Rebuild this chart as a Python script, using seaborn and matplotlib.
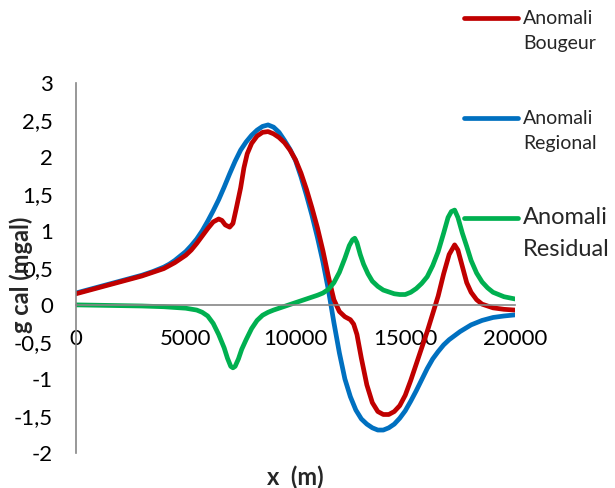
import numpy as np
import pandas as pd
import matplotlib
matplotlib.use("Agg")
import matplotlib.pyplot as plt
import seaborn as sns
from matplotlib.lines import Line2D

# ---------------- data ----------------
series_names = ["Anomali Bougeur", "Anomali Regional", "Anomali Residual"]

x_regional = [0, 1000, 2000, 3000, 3500, 4000, 4250, 4500, 4750, 5000, 5250, 5500,
              5750, 6000, 6250, 6500, 6750, 7000, 7250, 7500, 7750, 8000, 8250,
              8500, 8750, 9000, 9250, 9500, 9750, 10000, 10250, 10500, 10750,
              11000, 11250, 11500, 11750, 12000, 12250, 12500, 12750, 13000,
              13250, 13500, 13750, 14000, 14250, 14500, 14750, 15000, 15250,
              15500, 15750, 16000, 16250, 16500, 16750, 17000, 17500, 18000,
              18500, 19000, 19500, 20000]
y_regional = [0.16, 0.24, 0.32, 0.40, 0.45, 0.51, 0.55, 0.60, 0.66, 0.72, 0.80, 0.89,
              1.00, 1.13, 1.27, 1.42, 1.59, 1.77, 1.94, 2.09, 2.20, 2.29, 2.36,
              2.41, 2.43, 2.40, 2.33, 2.22, 2.10, 1.95, 1.73, 1.48, 1.21,
              0.91, 0.58, 0.20, -0.24, -0.65, -1.00, -1.24, -1.42, -1.54,
              -1.61, -1.66, -1.69, -1.69, -1.66, -1.61, -1.53, -1.43, -1.30,
              -1.16, -1.01, -0.86, -0.73, -0.63, -0.54, -0.47, -0.36, -0.27,
              -0.21, -0.17, -0.15, -0.135]

x_bouguer = [0, 1000, 2000, 3000, 3500, 4000, 4500, 5000, 5250, 5500, 5750, 6000,
             6250, 6500, 6650, 6800, 7000, 7150, 7300, 7500, 7650, 7800, 8000, 8250,
             8500, 8750, 9000, 9250, 9500, 9750, 10000, 10250, 10500, 10750, 11000,
             11250, 11500, 11750, 12000, 12250, 12500, 12650, 12800, 13000, 13250,
             13500, 13750, 14000, 14250, 14500, 14750, 15000, 15250, 15500, 15750,
             16000, 16250, 16500, 16750, 17000, 17250, 17400, 17600, 17800, 18000,
             18250, 18500, 19000, 19500, 20000]
y_bouguer = [0.15, 0.23, 0.31, 0.39, 0.44, 0.49, 0.57, 0.67, 0.74, 0.83, 0.93, 1.03,
             1.12, 1.16, 1.14, 1.08, 1.05, 1.10, 1.30, 1.58, 1.85, 2.04, 2.18, 2.28,
             2.33, 2.34, 2.31, 2.26, 2.19, 2.09, 1.96, 1.78, 1.56, 1.31, 1.04,
             0.73, 0.38, 0.07, -0.09, -0.16, -0.20, -0.26, -0.40, -0.72, -1.08,
             -1.32, -1.44, -1.48, -1.48, -1.44, -1.36, -1.22, -1.02, -0.80, -0.58,
             -0.36, -0.12, 0.12, 0.42, 0.68, 0.81, 0.74, 0.52, 0.30, 0.17,
             0.07, 0.01, -0.04, -0.06, -0.07]

x_residual = [0, 2000, 3000, 4000, 4500, 5000, 5500, 5750, 6000, 6250, 6500, 6750,
              6900, 7050, 7150, 7250, 7400, 7550, 7750, 8000, 8250, 8500, 8750, 9000,
              9500, 10000, 10500, 11000, 11250, 11500, 11750, 12000, 12250, 12450,
              12600, 12700, 12800, 12950, 13100, 13300, 13500, 13750, 14000, 14500,
              14750, 15000, 15250, 15500, 15750, 16000, 16250, 16500, 16750, 16950,
              17100, 17250, 17400, 17600, 17800, 18000, 18250, 18500, 18750, 19000,
              19500, 20000]
y_residual = [0.0, -0.01, -0.015, -0.025, -0.035, -0.045, -0.07, -0.10, -0.15, -0.25, -0.40, -0.58,
              -0.72, -0.83, -0.85, -0.83, -0.73, -0.60, -0.47, -0.32, -0.21, -0.14, -0.10, -0.07,
              -0.02, 0.03, 0.08, 0.13, 0.16, 0.21, 0.30, 0.44, 0.63, 0.80,
              0.88, 0.90, 0.84, 0.68, 0.55, 0.42, 0.32, 0.25, 0.20, 0.15,
              0.14, 0.14, 0.17, 0.22, 0.29, 0.38, 0.53, 0.72, 0.97, 1.18,
              1.26, 1.28, 1.18, 0.97, 0.79, 0.60, 0.43, 0.31, 0.23, 0.17,
              0.11, 0.08]

y_ticks = [-2, -1.5, -1, -0.5, 0, 0.5, 1, 1.5, 2, 2.5, 3]
y_tick_labels = ["-2", "-1,5", "-1", "-0,5", "0", "0,5", "1", "1,5", "2", "2,5", "3"]
x_ticks = [0, 5000, 10000, 15000, 20000]
x_tick_labels = ["0", "5000", "10000", "15000", "20000"]

colors = {"Anomali Bougeur": "#C00000",
          "Anomali Regional": "#0070C0",
          "Anomali Residual": "#00B050"}

df = pd.concat([
    pd.DataFrame({"x": x_bouguer, "g": y_bouguer, "series": series_names[0]}),
    pd.DataFrame({"x": x_regional, "g": y_regional, "series": series_names[1]}),
    pd.DataFrame({"x": x_residual, "g": y_residual, "series": series_names[2]}),
], ignore_index=True)

# ---------------- style ----------------
sns.set_theme(style="white")
plt.rcParams["font.family"] = ["Lato", "DejaVu Sans"]

W, H = 615, 488
fig = plt.figure(figsize=(W / 100, H / 100), dpi=100)
ax = fig.add_axes([76 / W, (H - 453) / H, 439 / W, (453 - 82.7) / H])

order = [series_names[1], series_names[0], series_names[2]]
for name in order:
    sub = df[df["series"] == name]
    sns.lineplot(data=sub, x="x", y="g", ax=ax, color=colors[name],
                 linewidth=3.4, legend=False, sort=True, estimator=None,
                 solid_capstyle="round", solid_joinstyle="round")

ax.set_xlim(0, 20000)
ax.set_ylim(-2, 3)
ax.set_yticks(y_ticks)
ax.set_yticklabels(y_tick_labels)
ax.set_xticks(x_ticks)
ax.set_xticklabels(x_tick_labels)

gray = "#868686"
for s in ["top", "right"]:
    ax.spines[s].set_visible(False)
ax.spines["bottom"].set_position(("data", 0))
for s in ["left", "bottom"]:
    ax.spines[s].set_color(gray)
    ax.spines[s].set_linewidth(1.2)

ax.tick_params(axis="both", which="both", direction="out", length=5.5, width=1.0,
               color=gray, labelsize=16, labelcolor="black")
ax.tick_params(axis="y", pad=11)
ax.tick_params(axis="x", pad=12)
ax.set_xlabel("")
ax.set_ylabel("")

fig.text(295 / W, 1 - 477 / H, "x  (m)", ha="center", va="center",
         fontsize=17, fontweight="bold")
fig.text(21 / W, 1 - 275 / H, "g cal (mgal)", ha="center", va="center",
         rotation=90, fontsize=17, fontweight="bold")

# ---------------- legend (manual, Excel-like) ----------------
legend_rows = [
    (series_names[0], 18, 25, 14),
    (series_names[1], 118, 25, 14),
    (series_names[2], 218, 31, 17),
]
for name, ypx, gap, fs in legend_rows:
    yy = 1 - ypx / H
    fig.add_artist(Line2D([464 / W, 518 / W], [yy, yy], transform=fig.transFigure,
                          color=colors[name], linewidth=3.4, solid_capstyle="round"))
    w1, w2 = name.split(" ")
    fig.text(523 / W, yy, w1, ha="left", va="center", fontsize=fs)
    fig.text(523 / W, 1 - (ypx + gap) / H, w2, ha="left", va="center", fontsize=fs)

fig.savefig("out.png", dpi=100)
